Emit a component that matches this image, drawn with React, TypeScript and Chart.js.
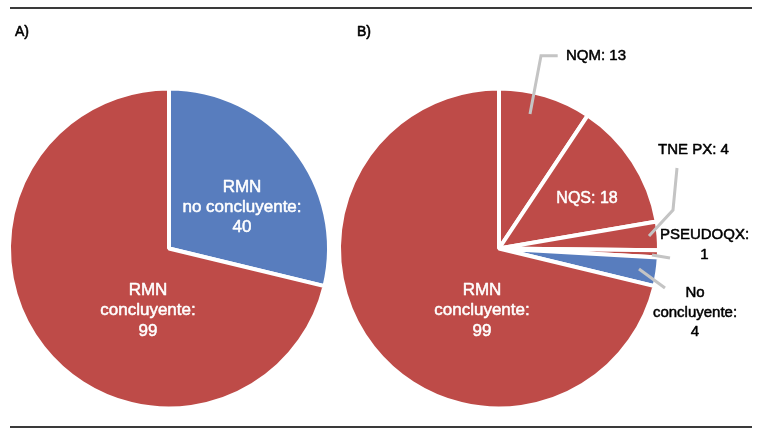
import React, { useEffect, useRef } from "react";
import { Chart, registerables } from "chart.js";

Chart.register(...registerables);

const W = 761;
const H = 438;
const RED = "#BE4B48";
const BLUE = "#587DBE";
const FONT = '"Liberation Sans", Arial, Helvetica, sans-serif';

// Panel A data
const pieALabels = ["RMN no concluyente", "RMN concluyente"];
const pieAValues = [40, 99];
const pieAColors = [BLUE, RED];

// Panel B data
const pieBLabels = ["NQM", "NQS", "TNE PX", "PSEUDOQX", "No concluyente", "RMN concluyente"];
const pieBValues = [13, 18, 4, 1, 4, 99];
const pieBColors = [RED, RED, RED, RED, BLUE, RED];

const panelTitles = ["A)", "B)"];

type Callout = {
  index: number;
  lines: string[];
  color: string;
  size: number;
  dx: number;
  dy: number;
  lh: number;
  leader?: number[][];
};

function heavyText(ctx: CanvasRenderingContext2D, text: string, x: number, y: number, color: string, w: number) {
  ctx.fillStyle = color;
  ctx.strokeStyle = color;
  ctx.lineWidth = w;
  ctx.lineJoin = "round";
  ctx.strokeText(text, x, y);
  ctx.fillText(text, x, y);
}

const calloutPlugin = {
  id: "callouts",
  afterDatasetsDraw(chart: any, _args: any, opts: any) {
    const ctx = chart.ctx as CanvasRenderingContext2D;
    const meta = chart.getDatasetMeta(0);
    const values = chart.data.datasets[0].data;
    (opts.items || []).forEach((it: Callout) => {
      const arc = meta.data[it.index];
      const cx = arc.x;
      const cy = arc.y;
      if (it.leader) {
        ctx.save();
        ctx.strokeStyle = "#C4C4C4";
        ctx.lineWidth = 3;
        ctx.lineJoin = "miter";
        ctx.beginPath();
        it.leader.forEach(([dx, dy], i) => {
          if (i === 0) ctx.moveTo(cx + dx, cy + dy);
          else ctx.lineTo(cx + dx, cy + dy);
        });
        ctx.stroke();
        ctx.restore();
      }
      ctx.save();
      ctx.font = `${it.size}px ${FONT}`;
      ctx.textAlign = "center";
      ctx.textBaseline = "middle";
      it.lines.forEach((ln, i) => {
        heavyText(ctx, ln.replace("{v}", String(values[it.index])), cx + it.dx, cy + it.dy + i * it.lh, it.color, 0.5);
      });
      ctx.restore();
    });
  },
};

const framePlugin = {
  id: "frame",
  afterDraw(chart: any) {
    const ctx = chart.ctx as CanvasRenderingContext2D;
    ctx.save();
    ctx.fillStyle = "#3A3A3A";
    ctx.fillRect(10, 7, 742, 2);
    ctx.fillRect(10, 426, 742, 2);
    ctx.font = `14px ${FONT}`;
    ctx.textAlign = "left";
    ctx.textBaseline = "alphabetic";
    heavyText(ctx, panelTitles[0], 15, 36, "#000", 0.6);
    heavyText(ctx, panelTitles[1], 357, 36, "#000", 0.6);
    ctx.restore();
  },
};

const calloutsA: Callout[] = [
  { index: 0, lines: ["RMN", "no concluyente:", "{v}"], color: "#fff", size: 17, dx: 73, dy: -61.5, lh: 20 },
  { index: 1, lines: ["RMN", "concluyente:", "{v}"], color: "#fff", size: 17, dx: -21, dy: 41.5, lh: 20.5 },
];

const calloutsB: Callout[] = [
  { index: 5, lines: ["RMN", "concluyente:", "{v}"], color: "#fff", size: 17, dx: -17, dy: 41.5, lh: 20.5 },
  { index: 1, lines: ["NQS: {v}"], color: "#fff", size: 16, dx: 88, dy: -49.5, lh: 20 },
  {
    index: 0, lines: ["NQM: {v}"], color: "#000", size: 15, dx: 97, dy: -192.5, lh: 20,
    leader: [[31, -134.5], [42, -192.8], [58.7, -192.8]],
  },
  {
    index: 2, lines: ["TNE PX: {v}"], color: "#000", size: 15, dx: 194.5, dy: -98.5, lh: 20,
    leader: [[150, -12.5], [174, -38.5], [178, -80.5]],
  },
  {
    index: 3, lines: ["PSEUDOQX:", "{v}"], color: "#000", size: 15, dx: 205.5, dy: -13.5, lh: 20,
    leader: [[153, 6.5], [171, 9.5]],
  },
  {
    index: 4, lines: ["No", "concluyente:", "{v}"], color: "#000", size: 15, dx: 196, dy: 44.5, lh: 19.5,
    leader: [[140, 20.5], [166, 39.5]],
  },
];

function makeConfig(labels: string[], values: number[], colors: string[], padding: any, items: Callout[], extra: any[]) {
  return {
    type: "pie" as const,
    data: {
      labels,
      datasets: [
        {
          data: values,
          backgroundColor: colors,
          borderColor: "#ffffff",
          borderWidth: 4,
        },
      ],
    },
    options: {
      responsive: false,
      animation: false as const,
      radius: 160,
      layout: { padding },
      plugins: {
        legend: { display: false },
        tooltip: { enabled: false },
        callouts: { items },
      } as any,
    },
    plugins: [calloutPlugin, ...extra],
  };
}

export default function App() {
  const refA = useRef<HTMLCanvasElement>(null);
  const refB = useRef<HTMLCanvasElement>(null);

  useEffect(() => {
    const a = new Chart(
      refA.current as HTMLCanvasElement,
      makeConfig(pieALabels, pieAValues, pieAColors, { left: 0, right: W - 338, top: 88, bottom: H - 409 }, calloutsA, [framePlugin]) as any
    );
    const b = new Chart(
      refB.current as HTMLCanvasElement,
      makeConfig(pieBLabels, pieBValues, pieBColors, { left: 340, right: W - 658, top: 88, bottom: H - 409 }, calloutsB, []) as any
    );
    return () => {
      a.destroy();
      b.destroy();
    };
  }, []);

  return (
    <div style={{ position: "fixed", left: 0, top: 0, width: W, height: H, background: "#fff" }}>
      <canvas ref={refA} width={W} height={H} style={{ position: "absolute", left: 0, top: 0 }} />
      <canvas ref={refB} width={W} height={H} style={{ position: "absolute", left: 0, top: 0 }} />
    </div>
  );
}
